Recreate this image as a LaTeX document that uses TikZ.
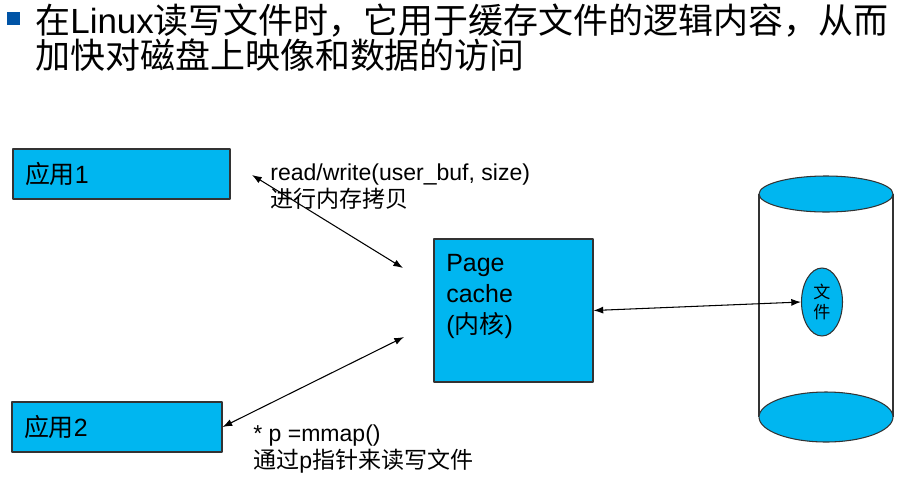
\documentclass[tikz,border=0pt]{standalone}
\usepackage{fontspec}
\setmainfont{Liberation Sans}
\newfontfamily\cjk{Noto Sans CJK SC}
\usetikzlibrary{shapes.geometric,arrows.meta}
\definecolor{boxcyan}{RGB}{0,182,240}
\definecolor{bulletblue}{RGB}{0,84,166}
\tikzset{
	appbox/.style={draw=black!80, fill=boxcyan, line width=0.6pt, inner ysep=0pt, inner xsep=0.24cm, minimum height=1cm, align=left, font=\fontsize{14.2pt}{17.6pt}\selectfont},
	lbl/.style={anchor=base west, inner sep=0pt, align=left, font=\fontsize{13.1pt}{15.2pt}\selectfont},
	ttl/.style={anchor=base west, inner sep=0pt, font=\fontsize{19.9pt}{19.9pt}\selectfont},
	cyl/.style={draw=black!80, line width=0.6pt}
}
\begin{document}
\begin{tikzpicture}[x={(0.02cm,0)}, y={(0,-0.02cm)}, >={Latex[length=5.5pt,width=4pt]}, line join=round]
	\useasboundingbox (0,0) rectangle (919,487);
	% title
	\fill[bulletblue] (7,12) rectangle (20,25);
	\node[ttl] (title1) at (35,33) {{\cjk 在}Linux{\cjk 读写文件时，它用于缓存文件的逻辑内容，从而}};
	\node[ttl] (title2) at (35,68) {\cjk 加快对磁盘上映像和数据的访问};
	% applications
	\foreach \n/\x/\y/\w/\t/\k in {app1/121.5/174/4.34/3.86/1, app2/117/427/4.2/3.72/2}
		\node[appbox, minimum width=\w cm, text width=\t cm] (\n) at (\x,\y) {{\cjk 应用}\k};
	% page cache
	\node[appbox, minimum width=3.18cm, minimum height=2.86cm, inner sep=0pt] (pc) at (513.5,310.5) {};
	\node[anchor=north west, inner sep=0pt, align=left, font=\fontsize{14.2pt}{17.6pt}\selectfont] (pctext) at (446,254) {Page\\cache\\({\cjk 内核})};
	% disk
	\draw[cyl] (759,194) -- (759,417) (893,194) -- (893,417);
	\filldraw[cyl, fill=boxcyan] (826,194) ellipse [x radius=1.34cm, y radius=0.36cm];
	\filldraw[cyl, fill=boxcyan] (826,417) ellipse [x radius=1.34cm, y radius=0.5cm];
	\node[ellipse, draw=black!80, fill=boxcyan, line width=0.6pt, minimum width=0.82cm, minimum height=1.36cm, inner sep=0pt, align=center, font=\cjk\fontsize{9.7pt}{11pt}\selectfont] (file) at (822,302) {文\\件};
	% labels
	\node[lbl] (rwlbl) at (270,207) {read/write(user\_buf, size)\\{\cjk 进行内存拷贝}};
	\node[lbl] (mmlbl) at (253,468) {* p =mmap()\\{\cjk 通过}p{\cjk 指针来读写文件}};
	% arrows
	\coordinate (rwA) at (252,175);
	\coordinate (rwB) at (403,268);
	\coordinate (mmA) at (404,337);
	\draw[<->, line width=0.6pt] (rwA) -- (rwB);
	\draw[<->, line width=0.6pt] (mmA) -- (app2.east);
	\draw[<->, line width=0.6pt] (pc.east) -- (file.west);
\end{tikzpicture}
\end{document}
